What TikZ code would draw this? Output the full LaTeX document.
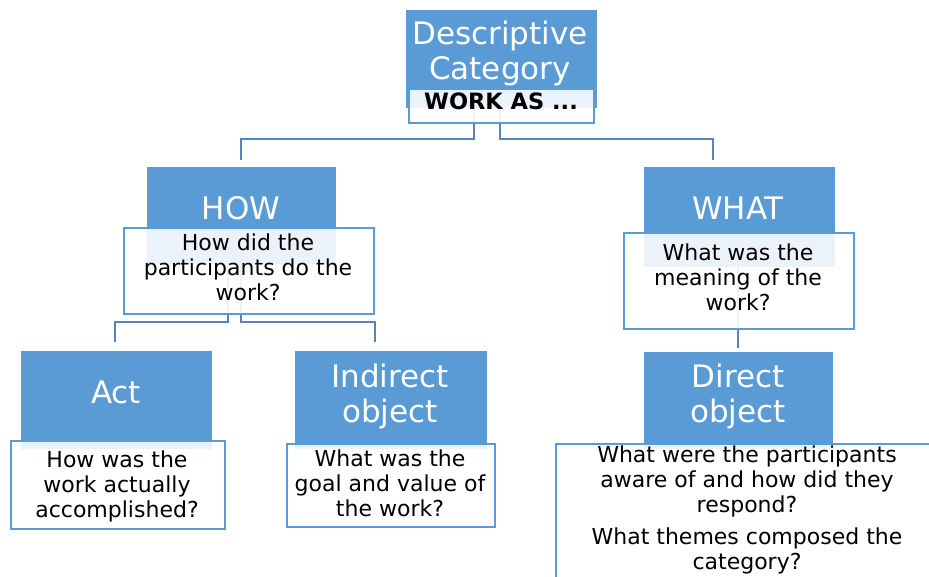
\documentclass[tikz,border=0pt]{standalone}
\usepackage{fontspec}
\setmainfont{DejaVu Sans}
\usetikzlibrary{calc}
\definecolor{boxblue}{HTML}{5B9BD5}
\definecolor{linkblue}{HTML}{5784BA}

\begin{document}
\begin{tikzpicture}[x=1pt,y=-1pt,
  bluebox/.style={draw=boxblue, fill=boxblue, line width=1pt, inner sep=0pt, anchor=north west},
  qbox/.style={draw=boxblue, fill=white, fill opacity=0.88, line width=1.6pt, inner sep=0pt, anchor=north west},
  bluetext/.style={text=white, font=\fontsize{31}{35}\selectfont, align=center, inner sep=0pt, anchor=base},
  qtext/.style={text=black, font=\fontsize{22}{25}\selectfont, align=center, inner sep=0pt, anchor=base},
  link/.style={draw=linkblue, line width=2pt}]

\useasboundingbox (0,0) rectangle (929,577);
\fill[white] (0,0) rectangle (929,577);
\clip (0,0) rectangle (929,577);

% connector start points (inside the category boxes) and end points
\coordinate (topL) at (474,107);
\coordinate (topR) at (500,107);
\coordinate (busTop) at (0,139);
\coordinate (howIn) at (241,160);
\coordinate (whatIn) at (713,160);
\coordinate (howL) at (228,263);
\coordinate (howR) at (241,263);
\coordinate (busHow) at (0,322);
\coordinate (actIn) at (115,342);
\coordinate (indIn) at (375,342);
\coordinate (whatOut) at (738,266);
\coordinate (dirIn) at (738,348);

% connectors
\draw[link] (topL) |- (howIn |- busTop) -- (howIn);
\draw[link] (topR) |- (whatIn |- busTop) -- (whatIn);
\draw[link] (howL) |- (actIn |- busHow) -- (actIn);
\draw[link] (howR) |- (indIn |- busHow) -- (indIn);
\draw[link] (whatOut) -- (dirIn);

% category boxes
\node[bluebox, minimum width=190pt, minimum height=97pt] (topBlue) at (406,10) {};
\node[bluebox, minimum width=188pt, minimum height=96pt] (howBlue) at (147,167) {};
\node[bluebox, minimum width=190pt, minimum height=99pt] (whatBlue) at (644,167) {};
\node[bluebox, minimum width=190pt, minimum height=97pt] (actBlue) at (21,351) {};
\node[bluebox, minimum width=191pt, minimum height=97pt] (indBlue) at (295,351) {};
\node[bluebox, minimum width=188pt, minimum height=96pt] (dirBlue) at (644,352) {};

% question boxes
\node[qbox, minimum width=185pt, minimum height=34pt] (topQ) at (408,88) {};
\node[qbox, minimum width=250pt, minimum height=86pt] (howQ) at (123,227) {};
\node[qbox, minimum width=230pt, minimum height=96pt] (whatQ) at (623,232) {};
\node[qbox, minimum width=214pt, minimum height=88pt] (actQ) at (10,440) {};
\node[qbox, minimum width=208pt, minimum height=83pt] (indQ) at (286,443) {};
\node[qbox, minimum width=390pt, minimum height=150pt] (dirQ) at (555,443) {};

% labels (base anchor = baseline of the last line)
\node[bluetext] (topT) at (500,80) {Descriptive\\Category};
\node[qtext, font=\fontsize{22.5}{25}\selectfont\bfseries] (topQT) at (501,110) {WORK AS ...};
\node[bluetext] (howT) at (241,220) {HOW};
\node[qtext] (howQT) at (248,301) {How did the\\participants do the\\work?};
\node[bluetext] (whatT) at (738,220) {WHAT};
\node[qtext] (whatQT) at (738,311) {What was the\\meaning of the\\work?};
\node[bluetext] (actT) at (116,403) {Act};
\node[qtext] (actQT) at (117,517) {How was the\\work actually\\accomplished?};
\node[bluetext] (indT) at (390,422) {Indirect\\object};
\node[qtext] (indQT) at (390,516) {What was the\\goal and value of\\the work?};
\node[bluetext] (dirT) at (738,422) {Direct\\object};
\node[qtext] (dirQT) at (747,569) {What were the participants\\aware of and how did they\\respond?\\[7pt]What themes composed the\\category?};
\end{tikzpicture}
\end{document}
